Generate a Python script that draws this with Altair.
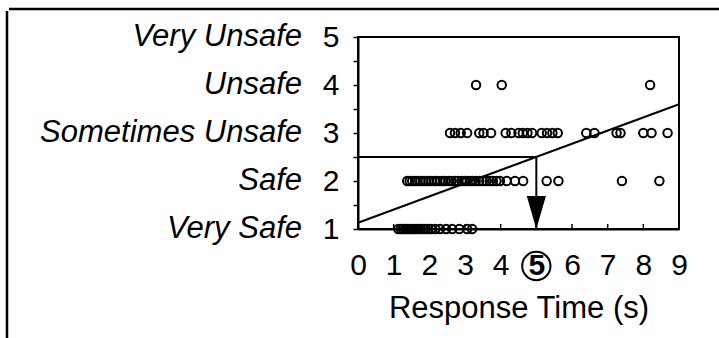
import altair as alt
import pandas as pd

# ---- data ----
rating_values = [1, 2, 3, 4, 5]
rating_names = ["Very Safe", "Safe", "Sometimes Unsafe", "Unsafe", "Very Unsafe"]

times_very_safe = [1.13, 1.2, 1.26, 1.32, 1.38, 1.45, 1.5, 1.57, 1.63, 1.7, 1.76,
                   1.84, 1.9, 1.97, 2.05, 2.17, 2.3, 2.47, 2.64, 2.84, 3.06, 3.2]
times_safe = [1.38, 1.45, 1.52, 1.6, 1.66, 1.75, 1.83, 1.9, 1.98, 2.06, 2.15, 2.22,
              2.3, 2.38, 2.45, 2.55, 2.62, 2.72, 2.8, 2.9, 2.98, 3.05, 3.15, 3.22,
              3.3, 3.4, 3.5, 3.6, 3.7, 3.78, 3.88, 3.98, 4.17, 4.4, 4.63, 5.29,
              5.62, 7.4, 8.45]
times_sometimes_unsafe = [2.58, 2.72, 2.88, 3.06, 3.4, 3.52, 3.73, 4.14, 4.3, 4.5,
                          4.62, 4.75, 4.88, 5.15, 5.3, 5.45, 5.6, 6.4, 6.63, 7.25,
                          7.36, 8.0, 8.23, 8.68]
times_unsafe = [3.31, 4.03, 8.19]
times_very_unsafe = []

fit_x = [0, 9]
fit_y = [1.13, 3.6]
guide_x = [0, 5]
guide_y = [2.5, 2.5]
arrow_x = [5, 5]
arrow_y = [2.5, 1.0]
x_ticks = [0, 1, 2, 3, 4, 5, 6, 7, 8, 9]
y_ticks = [1, 1.5, 2, 2.5, 3, 3.5, 4, 4.5, 5]
highlight_time = 5

rows = []
for r, ts in zip(rating_values, [times_very_safe, times_safe, times_sometimes_unsafe,
                                 times_unsafe, times_very_unsafe]):
    for t in ts:
        rows.append({"time": t, "rating": r})
pts = pd.DataFrame(rows)

FONT = "Liberation Sans"
W, H = 321, 192

xscale = alt.Scale(domain=[0, 9], nice=False, zero=False)
yscale = alt.Scale(domain=[1, 5], nice=False, zero=False)

x_axis = alt.Axis(
    values=x_ticks, format="d", grid=False, ticks=False, domain=True, domainWidth=2,
    domainColor="black", labelFont=FONT, labelFontSize=30, labelColor="black",
    labelFontWeight={"condition": {"test": "datum.value == 5", "value": "bold"},
                     "value": "normal"},
    labelOverlap=False, labelPadding=21, labelFlush=False,
    title="Response Time (s)", titleFont=FONT, titleFontSize=31,
    titleFontWeight="normal", titleColor="black", titlePadding=13)
y_axis = alt.Axis(
    values=y_ticks, grid=False, tickSize=5, tickWidth=1.5, tickColor="black",
    domain=True, domainWidth=2, domainColor="black",
    labelExpr="datum.value % 1 == 0 ? format(datum.value, 'd') : ''",
    labelOverlap=False, labelFont=FONT, labelFontSize=30, labelColor="black",
    labelPadding=14, title=None)


def X(field):
    return alt.X(field, scale=xscale, axis=x_axis, title="Response Time (s)")


def Y(field):
    return alt.Y(field, scale=yscale, axis=y_axis, title=None)


points = alt.Chart(pts).mark_point(
    shape="circle", filled=False, color="black", size=72, strokeWidth=2, opacity=1
).encode(x=X("time:Q"), y=Y("rating:Q"))

fit_df = pd.DataFrame({"x": fit_x, "y": fit_y})
fit = alt.Chart(fit_df).mark_line(color="black", strokeWidth=2).encode(
    x=X("x:Q"), y=Y("y:Q"))

guide_df = pd.DataFrame({"x": guide_x, "y": guide_y})
guide = alt.Chart(guide_df).mark_line(color="black", strokeWidth=2).encode(
    x=X("x:Q"), y=Y("y:Q"))

arrow_df = pd.DataFrame({"x": arrow_x, "y": arrow_y})
arrow = alt.Chart(arrow_df).mark_line(color="black", strokeWidth=2).encode(
    x=X("x:Q"), y=Y("y:Q"))

head = alt.Chart(pd.DataFrame({"x": [arrow_x[1]], "y": [arrow_y[1]]})).mark_point(
    shape="M-0.58,-1 L0.58,-1 L0,1 Z", filled=True, color="black", size=1089,
    opacity=1, yOffset=-16.5
).encode(x=X("x:Q"), y=Y("y:Q"))

xt = alt.Chart(pd.DataFrame({"x": x_ticks})).mark_rule(color="black", strokeWidth=1.5).encode(
    x=X("x:Q"), y=alt.value(H), y2=alt.value(H - 5))

ring = alt.Chart(pd.DataFrame({"x": [highlight_time]})).mark_point(
    shape="circle", filled=False, color="black", size=800, strokeWidth=2, opacity=1
).encode(x=X("x:Q"), y=alt.value(H + 37))

names_df = pd.DataFrame({"y": rating_values, "name": rating_names})
names = alt.Chart(names_df).mark_text(
    align="right", baseline="middle", font=FONT, fontSize=31, fontStyle="italic",
    color="black"
).encode(x=alt.value(-56), y=Y("y:Q"), text="name:N")

frame_left = alt.Chart(pd.DataFrame({"a": [0]})).mark_rule(color="black", strokeWidth=2.5).encode(
    x=alt.value(-351), y=alt.value(-26), y2=alt.value(301))
frame_top = alt.Chart(pd.DataFrame({"a": [0]})).mark_rule(color="black", strokeWidth=2.5).encode(
    x=alt.value(-349), x2=alt.value(361), y=alt.value(-28))

chart = alt.layer(
    points, fit, guide, arrow, head, xt, ring, names, frame_left, frame_top
).properties(
    width=W, height=H,
    autosize=alt.AutoSizeParams(type="none"),
    padding={"left": 358, "top": 37, "right": 40, "bottom": 109},
    background="white",
).configure_view(stroke="black", strokeWidth=2, clip=False)

chart.save("out.html", embed_options={"renderer": "svg", "actions": False})
